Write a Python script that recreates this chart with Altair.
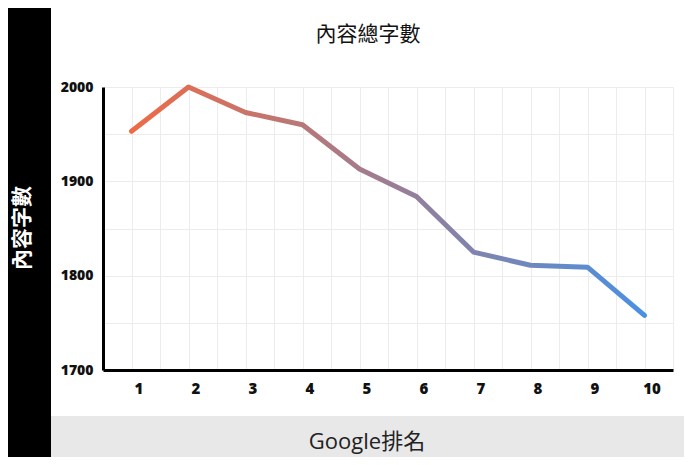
import altair as alt
import pandas as pd

ranks = [1, 2, 3, 4, 5, 6, 7, 8, 9, 10]
word_counts = [1953, 2000, 1973, 1960, 1913, 1884, 1825, 1811, 1809, 1758]

title_text = "內容總字數"
x_title = "Google排名"
y_title = "內容字數"

df = pd.DataFrame({"rank": ranks, "words": word_counts})
one = pd.DataFrame({"k": [0]})

x_vals = [v / 2 for v in range(1, 22)]
y_vals = list(range(1700, 2001, 50))

line = alt.Chart(df).mark_line(
    stroke=alt.LinearGradient(
        gradient="linear",
        stops=[alt.GradientStop(color="#ee6b45", offset=0),
               alt.GradientStop(color="#4a90e2", offset=1)],
        x1=0, x2=1, y1=0, y2=0),
    strokeWidth=5, strokeCap="round", strokeJoin="round"
).encode(
    x=alt.X("rank:Q", scale=alt.Scale(domain=[0.5, 10.5], nice=False, zero=False),
            axis=alt.Axis(values=x_vals, tickCount=50, title=None,
                          labelExpr="datum.value % 1 === 0 ? format(datum.value, 'd') : ''",
                          labelOffset=7, labelPadding=11, labelFontSize=15,
                          labelFlush=False, labelOverlap=False)),
    y=alt.Y("words:Q", scale=alt.Scale(domain=[1700, 2000], nice=False, zero=False),
            axis=alt.Axis(values=y_vals, tickCount=50, format="d", title=None,
                          labelExpr="datum.value % 100 === 0 ? datum.label : ''",
                          labelPadding=10, labelFontSize=14,
                          labelFlush=False, labelOverlap=False)),
)

black_band = alt.Chart(one).mark_rect(color="#000000").encode(
    x=alt.value(-200), x2=alt.value(-52), y=alt.value(-200), y2=alt.value(500))
gray_band = alt.Chart(one).mark_rect(color="#e8e8e8").encode(
    x=alt.value(-52), x2=alt.value(700), y=alt.value(329), y2=alt.value(500))

title = alt.Chart(one).mark_text(
    text=title_text, font="Noto Sans CJK TC", fontSize=21, color="#111111",
    align="center", baseline="middle").encode(x=alt.value(265), y=alt.value(-52))
xt = alt.Chart(one).mark_text(
    text=x_title, font="Open Sans, Noto Sans CJK TC", fontSize=22, color="#222222",
    align="center", baseline="middle").encode(x=alt.value(264), y=alt.value(355))
yt = alt.Chart(one).mark_text(
    text=y_title, font="Noto Sans CJK TC", fontSize=21, fontWeight="bold",
    color="#ffffff", angle=270, align="center", baseline="middle").encode(
    x=alt.value(-80), y=alt.value(141))

chart = alt.layer(black_band, gray_band, line, title, xt, yt).properties(
    width=570, height=283,
    padding={"left": 95, "top": 79, "right": 11, "bottom": 87},
    autosize=alt.AutoSizeParams(type="none"),
    background="#ffffff",
).configure_view(stroke=None).configure_axis(
    domainColor="#000000", domainWidth=3, gridColor="#ececec", gridWidth=1,
    ticks=False, labelFont="Open Sans", labelFontWeight=800, labelColor="#111111",
)

chart.save("out.html", embed_options={"renderer": "svg", "actions": False})
